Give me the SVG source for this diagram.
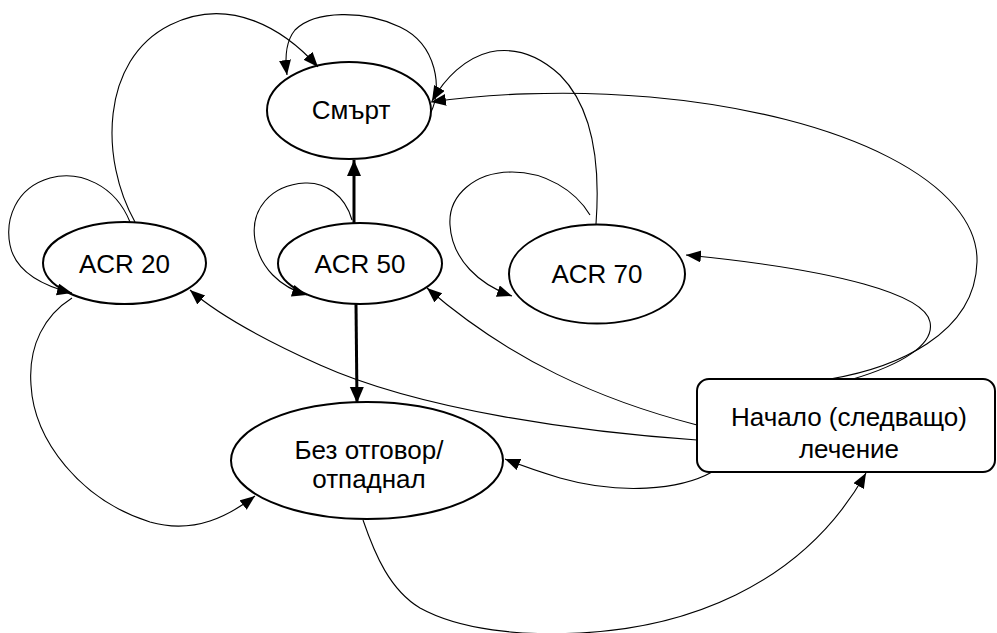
<svg xmlns="http://www.w3.org/2000/svg" width="997" height="633" viewBox="0 0 997 633">
<style>
.node{fill:#fff;stroke:#000;stroke-width:2}
.lbl{font-family:"Liberation Sans",Arial,sans-serif;font-size:26px;fill:#000;text-anchor:middle}
.c{fill:none;stroke:#000;stroke-width:1.1;marker-end:url(#ah)}
.ct{fill:none;stroke:#000;stroke-width:3;marker-end:url(#ahb)}
</style>
<defs>
<marker id="ah" markerUnits="userSpaceOnUse" markerWidth="15" markerHeight="13" refX="15" refY="6" orient="auto"><path d="M0,0 L15,6 L0,12 z" fill="#000"/></marker>
<marker id="ahb" markerUnits="userSpaceOnUse" markerWidth="16" markerHeight="15" refX="16" refY="7" orient="auto"><path d="M0,0 L16,7 L0,14 z" fill="#000"/></marker>
</defs>
<g id="n-smart"><ellipse class="node" cx="349" cy="110.5" rx="82" ry="48.5"/><text class="lbl" x="351" y="119">Смърт</text></g>
<g id="n-acr20"><ellipse class="node" cx="124.5" cy="263" rx="81.5" ry="41"/><text class="lbl" x="124.5" y="273">ACR 20</text></g>
<g id="n-acr50"><ellipse class="node" cx="360" cy="263.5" rx="82" ry="40.5"/><text class="lbl" x="360" y="273">ACR 50</text></g>
<g id="n-acr70"><ellipse class="node" cx="597" cy="274" rx="88" ry="49.5"/><text class="lbl" x="597" y="283">ACR 70</text></g>
<g id="n-bez"><ellipse class="node" cx="367" cy="460.5" rx="136" ry="58.5"/><text class="lbl" x="369" y="459">Без отговор/</text><text class="lbl" x="369" y="488">отпаднал</text></g>
<g id="n-nachalo"><rect class="node" x="697" y="379" width="298" height="93" rx="12"/><text class="lbl" x="849" y="426">Начало (следващо)</text><text class="lbl" x="849" y="458">лечение</text></g>
<g id="connectors">
<path class="ct" d="M354,223 L354,160"/>
<path class="ct" d="M356,304 L357,403"/>
<path class="c" d="M135,222 C100,160 100,60 170,25 C230,-5 285,30 318,67"/>
<path class="c" d="M130,222 C115,185 80,170 50,178 C15,188 5,220 10,245 C15,270 40,285 72,293"/>
<path class="c" d="M72,298 C45,315 28,345 31,385 C34,440 80,500 150,522 C195,535 230,515 255,496"/>
<path class="c" d="M352,220 C345,195 325,182 305,183 C270,185 250,210 255,240 C260,268 280,287 307,295"/>
<path class="c" d="M431,112 C442,90 438,45 400,27 C365,10 315,10 295,30 C285,42 285,60 287,75"/>
<path class="c" d="M596,224 C600,170 595,110 560,75 C535,52 510,48 490,52 C465,58 445,78 432,101"/>
<path class="c" d="M590,215 C575,190 545,172 512,172 C475,172 448,195 450,225 C452,260 480,285 512,296"/>
<path class="c" d="M830,379 C895,368 975,335 977,262 C979,185 850,115 650,97 C560,89 480,95 431,102"/>
<path class="c" d="M853,379 C900,365 935,345 930,322 C925,295 840,270 686,255"/>
<path class="c" d="M697,425 C600,400 510,360 427,288"/>
<path class="c" d="M697,440 C580,432 420,410 320,365 C260,338 215,312 190,290"/>
<path class="c" d="M712,472 C680,490 620,495 560,478 C540,472 520,465 505,459"/>
<path class="c" d="M363,520 C375,555 390,590 420,608 C460,630 520,636 580,633 C680,628 800,590 866,473"/>
</g>
</svg>
